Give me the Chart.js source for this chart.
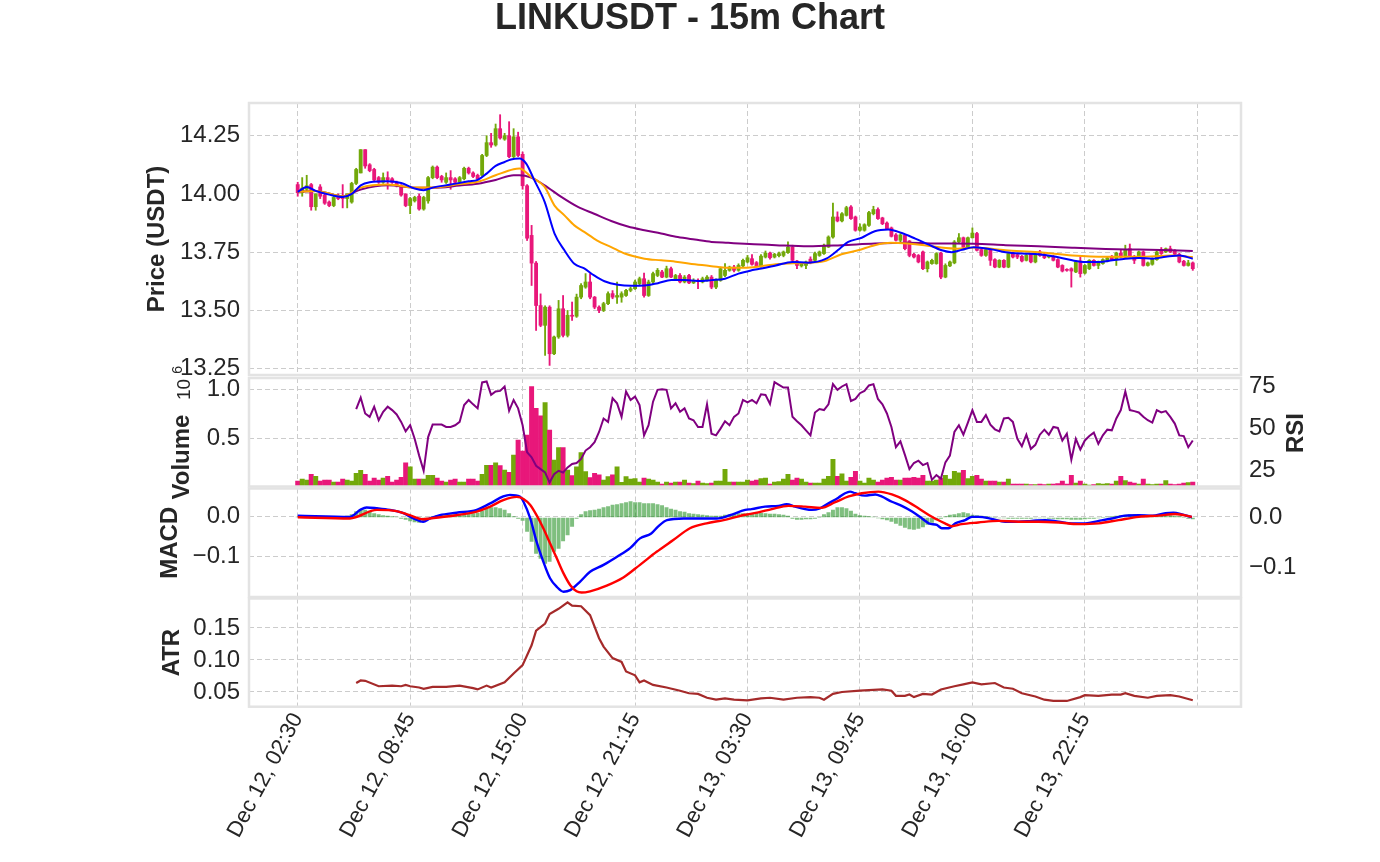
<!DOCTYPE html>
<html>
<head>
<meta charset="utf-8">
<script src="https://cdn.jsdelivr.net/npm/chart.js@4.4.1/dist/chart.umd.min.js"></script>
<style>
html,body{margin:0;padding:0;background:#ffffff;}
#wrap{position:relative;width:1380px;height:862px;overflow:hidden;}
canvas{position:absolute;left:0;top:0;}
</style>
</head>
<body>
<div id="wrap">
<canvas id="cPrice" width="1380" height="862"></canvas>
<canvas id="cVol" width="1380" height="862"></canvas>
<canvas id="cMacd" width="1380" height="862"></canvas>
<canvas id="cAtr" width="1380" height="862"></canvas>
</div>
<script>
// ---------------- DATA ----------------
const timeLabels = ['Dec 12, 02:30','Dec 12, 08:45','Dec 12, 15:00','Dec 12, 21:15','Dec 13, 03:30','Dec 13, 09:45','Dec 13, 16:00','Dec 13, 22:15',''];
const tickIdx = [0,25,50,75,100,125,150,175,200];
const priceTicks = [13.25,13.50,13.75,14.00,14.25];
const volTicks = [0.5,1.0];
const rsiTicks = [25,50,75];
const macdTicks = [-0.1,0.0];
const histTicks = [-0.1,0.0];
const atrTicks = [0.05,0.10,0.15];

const openP = [14.040,14.005,14.020,14.040,13.945,14.030,13.995,13.965,13.950,13.990,
13.990,13.980,13.965,14.045,14.090,14.190,14.125,14.105,14.070,14.050,
14.070,14.065,14.050,14.035,14.000,13.950,13.970,13.990,13.935,13.970,
14.070,14.115,14.075,14.050,14.070,14.065,14.050,14.065,14.110,14.090,
14.080,14.080,14.165,14.220,14.210,14.280,14.235,14.250,14.160,14.245,
14.170,14.035,13.822,13.703,13.521,13.436,13.514,13.314,13.386,13.507,
13.393,13.479,13.475,13.557,13.600,13.622,13.557,13.514,13.500,13.529,
13.572,13.557,13.557,13.564,13.586,13.593,13.615,13.636,13.564,13.622,
13.650,13.665,13.643,13.679,13.636,13.650,13.622,13.650,13.618,13.629,
13.622,13.629,13.643,13.600,13.629,13.650,13.672,13.686,13.672,13.691,
13.708,13.722,13.705,13.691,13.729,13.746,13.729,13.735,13.736,13.748,
13.772,13.712,13.691,13.693,13.720,13.715,13.736,13.744,13.772,13.815,
13.901,13.884,13.908,13.944,13.901,13.844,13.844,13.865,13.915,13.933,
13.897,13.875,13.854,13.824,13.801,13.822,13.798,13.741,13.736,13.751,
13.679,13.701,13.701,13.746,13.643,13.691,13.704,13.794,13.812,13.772,
13.812,13.830,13.761,13.736,13.761,13.718,13.686,13.715,13.686,13.746,
13.739,13.732,13.715,13.741,13.708,13.751,13.741,13.729,13.732,13.718,
13.693,13.675,13.679,13.665,13.712,13.660,13.679,13.715,13.693,13.701,
13.712,13.732,13.718,13.746,13.729,13.765,13.732,13.729,13.751,13.693,
13.698,13.718,13.758,13.751,13.765,13.758,13.741,13.711,13.693,13.704];

const highP = [14.050,14.070,14.080,14.045,14.000,14.040,14.000,13.970,13.990,14.000,
14.040,14.000,14.050,14.110,14.190,14.190,14.130,14.110,14.075,14.090,
14.095,14.070,14.055,14.040,14.000,13.985,13.990,14.000,13.990,14.075,
14.120,14.120,14.080,14.090,14.100,14.070,14.075,14.115,14.115,14.095,
14.085,14.170,14.250,14.260,14.300,14.340,14.260,14.310,14.280,14.265,
14.180,14.040,13.865,13.710,13.571,13.520,13.520,13.390,13.543,13.564,
13.500,13.536,13.570,13.615,13.658,13.658,13.560,13.520,13.535,13.580,
13.585,13.622,13.580,13.590,13.600,13.630,13.643,13.660,13.630,13.665,
13.680,13.672,13.690,13.686,13.655,13.658,13.650,13.655,13.636,13.636,
13.643,13.650,13.650,13.636,13.686,13.701,13.690,13.693,13.700,13.720,
13.736,13.740,13.710,13.740,13.755,13.750,13.745,13.750,13.755,13.794,
13.780,13.715,13.705,13.712,13.730,13.750,13.755,13.785,13.820,13.961,
13.923,13.920,13.947,13.950,13.905,13.872,13.872,13.925,13.947,13.940,
13.900,13.880,13.858,13.830,13.830,13.825,13.800,13.745,13.740,13.755,
13.712,13.720,13.748,13.750,13.700,13.712,13.800,13.830,13.815,13.815,
13.854,13.835,13.765,13.765,13.765,13.722,13.718,13.718,13.748,13.750,
13.742,13.736,13.740,13.745,13.745,13.758,13.745,13.736,13.736,13.722,
13.696,13.679,13.683,13.712,13.729,13.697,13.718,13.718,13.712,13.722,
13.729,13.736,13.750,13.761,13.780,13.785,13.736,13.755,13.755,13.708,
13.726,13.755,13.770,13.768,13.776,13.761,13.745,13.715,13.715,13.708];

const lowP = [13.990,13.990,14.010,13.930,13.930,13.980,13.955,13.945,13.945,13.975,
13.940,13.940,13.960,14.040,14.090,14.110,14.095,14.055,14.045,14.045,
14.020,14.045,14.030,13.990,13.945,13.915,13.965,13.930,13.930,13.960,
14.065,14.065,14.050,14.045,14.020,14.045,14.045,14.060,14.085,14.070,
14.060,14.075,14.160,14.200,14.205,14.235,14.230,14.155,14.155,14.160,
14.020,13.800,13.607,13.414,13.430,13.307,13.264,13.310,13.380,13.386,
13.386,13.457,13.470,13.550,13.595,13.550,13.507,13.490,13.495,13.525,
13.550,13.530,13.535,13.560,13.580,13.590,13.610,13.557,13.560,13.615,
13.645,13.640,13.640,13.640,13.632,13.618,13.618,13.615,13.615,13.593,
13.618,13.625,13.593,13.593,13.625,13.645,13.668,13.665,13.668,13.686,
13.704,13.694,13.686,13.686,13.725,13.720,13.725,13.730,13.730,13.745,
13.710,13.679,13.686,13.679,13.700,13.710,13.732,13.740,13.770,13.810,
13.880,13.880,13.905,13.890,13.840,13.840,13.840,13.860,13.910,13.890,
13.868,13.848,13.815,13.798,13.795,13.760,13.730,13.725,13.704,13.675,
13.665,13.698,13.698,13.636,13.640,13.688,13.700,13.790,13.768,13.768,
13.810,13.755,13.732,13.732,13.693,13.683,13.683,13.683,13.683,13.725,
13.722,13.708,13.712,13.704,13.704,13.732,13.722,13.725,13.712,13.683,
13.665,13.668,13.600,13.662,13.643,13.656,13.675,13.690,13.679,13.698,
13.708,13.715,13.693,13.725,13.725,13.729,13.701,13.725,13.690,13.690,
13.694,13.715,13.740,13.748,13.748,13.738,13.704,13.690,13.690,13.672];

const closeP = [14.005,14.025,14.035,13.945,14.000,13.990,13.960,13.950,13.985,13.980,
13.980,14.000,14.045,14.105,14.190,14.120,14.100,14.060,14.050,14.070,
14.060,14.050,14.035,13.995,13.950,13.980,13.985,13.935,13.985,14.070,
14.115,14.070,14.060,14.070,14.060,14.050,14.070,14.110,14.090,14.075,
14.065,14.165,14.220,14.210,14.280,14.240,14.250,14.160,14.245,14.165,
14.035,13.810,13.703,13.521,13.436,13.514,13.314,13.386,13.507,13.393,
13.479,13.475,13.557,13.607,13.622,13.557,13.514,13.500,13.529,13.572,
13.557,13.564,13.572,13.586,13.593,13.622,13.636,13.564,13.622,13.658,
13.672,13.643,13.679,13.643,13.650,13.622,13.643,13.618,13.629,13.625,
13.636,13.643,13.600,13.629,13.679,13.672,13.686,13.672,13.693,13.715,
13.726,13.698,13.691,13.733,13.746,13.726,13.741,13.744,13.751,13.772,
13.715,13.693,13.701,13.708,13.708,13.744,13.751,13.780,13.815,13.901,
13.884,13.915,13.941,13.894,13.844,13.858,13.868,13.920,13.933,13.894,
13.872,13.851,13.818,13.801,13.824,13.765,13.736,13.729,13.708,13.679,
13.708,13.715,13.744,13.643,13.693,13.708,13.794,13.812,13.772,13.812,
13.832,13.758,13.736,13.761,13.715,13.686,13.715,13.686,13.744,13.729,
13.729,13.712,13.736,13.708,13.741,13.736,13.726,13.733,13.715,13.686,
13.669,13.672,13.669,13.708,13.658,13.693,13.715,13.693,13.708,13.718,
13.725,13.718,13.746,13.729,13.761,13.732,13.715,13.751,13.693,13.704,
13.722,13.751,13.744,13.765,13.751,13.741,13.708,13.693,13.704,13.679];

// volume in millions
const volume = [0.072,0.09,0.08,0.14,0.12,0.07,0.08,0.08,0.06,0.06,
0.09,0.08,0.07,0.15,0.18,0.14,0.07,0.10,0.08,0.10,
0.12,0.06,0.08,0.11,0.255,0.215,0.09,0.09,0.09,0.13,
0.13,0.10,0.07,0.06,0.08,0.09,0.06,0.06,0.09,0.09,
0.07,0.14,0.23,0.23,0.255,0.227,0.183,0.16,0.335,0.487,
0.375,0.537,1.026,0.808,0.73,0.865,0.588,0.284,0.41,0.41,
0.183,0.126,0.216,0.358,0.166,0.106,0.15,0.133,0.08,0.116,
0.133,0.216,0.059,0.116,0.09,0.095,0.06,0.10,0.09,0.08,
0.06,0.04,0.06,0.05,0.06,0.06,0.08,0.05,0.045,0.07,
0.05,0.045,0.05,0.07,0.07,0.19,0.06,0.06,0.06,0.06,
0.08,0.07,0.08,0.095,0.10,0.04,0.06,0.065,0.09,0.14,
0.08,0.10,0.09,0.06,0.05,0.05,0.05,0.09,0.12,0.29,
0.12,0.145,0.07,0.11,0.17,0.07,0.05,0.10,0.08,0.06,
0.08,0.10,0.11,0.08,0.08,0.10,0.10,0.11,0.10,0.13,
0.07,0.07,0.08,0.10,0.13,0.09,0.17,0.155,0.18,0.095,
0.12,0.13,0.09,0.07,0.07,0.07,0.06,0.06,0.09,0.04,
0.04,0.04,0.04,0.035,0.035,0.04,0.035,0.04,0.04,0.045,
0.072,0.04,0.13,0.05,0.07,0.04,0.03,0.035,0.045,0.04,
0.045,0.04,0.07,0.12,0.075,0.06,0.05,0.04,0.09,0.04,
0.035,0.04,0.04,0.075,0.04,0.035,0.04,0.05,0.055,0.06];

const rsiStart = 13;
const rsi = [61.4,68.2,58.8,56.8,62.8,54.8,59.8,62.8,60.8,58.2,53.8,48.2,51.8,43.8,33.8,24.8,44.8,
52.2,52.2,52.2,50.8,50.8,51.8,53.8,63.8,66.8,64.2,61.8,77.2,77.8,69.8,71.8,72.2,74.8,60.4,66.8,61.8,
51.8,35.8,32.8,27.8,25.8,23.8,17.8,22.8,24.8,23.8,26.8,28.8,29.4,31.8,36.8,38.8,41.8,47.8,55.8,53.8,
67.8,64.8,56.8,71.8,66.8,68.8,63.8,45.8,51.8,65.8,72.8,73.2,72.8,61.8,64.8,59.8,61.8,55.8,54.8,50.8,
50.8,64.2,46.8,45.8,49.8,54.2,51.8,56.8,58.8,66.8,
65.4,66.8,64.8,70.2,69.8,64.4,77.4,75.8,74.2,74.2,56.8,54.2,51.8,48.8,45.8,59.4,61.4,60.8,64.2,76.2,
72.8,74.8,76.2,66.2,67.4,70.8,72.2,75.4,76.2,67.4,64.2,58.8,50.8,38.8,42.2,34.2,25.8,29.4,30.8,28.2,
29.4,19.4,22.2,20.2,29.8,33.8,47.8,51.8,46.2,53.4,60.8,53.8,53.8,57.8,52.2,49.4,48.2,55.8,56.2,53.8,
43.8,39.4,46.2,37.8,40.2,46.2,49.2,46.2,50.8,50.2,42.8,46.8,31.4,43.8,37.4,42.8,45.4,47.4,40.8,45.8,
49.2,48.8,55.8,60.8,71.8,60.8,60.2,59.4,56.8,54.8,53.4,60.8,59.4,60.2,56.8,52.8,45.8,45.4,38.8,42.8];

// moving averages as [bar, price]
const emaFast = [[0,14.009],[2,14.03],[4,14.013],[7,13.997],[10,13.987],[12,14.0],[14,14.037],[16,14.05],[20,14.054],[23,14.047],[26,14.023],[28,14.016],[30,14.027],[34,14.04],[38,14.054],[40,14.06],[42,14.087],[44,14.12],[46,14.137],[47.4,14.148],[49.3,14.152],[50.8,14.13],[52.6,14.059],[54.9,13.966],[57.1,13.83],[59.3,13.758],[61.5,13.70],[63.7,13.68],[65.9,13.65],[68.2,13.625],[71.2,13.61],[74.2,13.606],[77.1,13.607],[80.1,13.617],[83.1,13.63],[86.0,13.63],[89.0,13.626],[92.0,13.63],[95.0,13.636],[98.0,13.658],[100.9,13.672],[103.1,13.68],[106.3,13.693],[110,13.708],[113.5,13.705],[117.5,13.722],[120.5,13.765],[122.4,13.794],[125.4,13.812],[128.3,13.84],[131.3,13.847],[134.3,13.832],[137.3,13.808],[140.3,13.782],[143.2,13.758],[145.4,13.75],[147.7,13.76],[150.3,13.771],[154.3,13.762],[157.4,13.75],[161.1,13.744],[164.7,13.741],[168.6,13.73],[172.2,13.715],[175.1,13.708],[178.1,13.708],[181.1,13.715],[184,13.722],[187,13.725],[190,13.722],[193,13.73],[196,13.736],[199,13.722]];
const emaMid = [[0,14.009],[4,14.013],[10,13.99],[14,14.027],[20,14.04],[26,14.027],[30,14.027],[36,14.042],[40,14.052],[44,14.08],[48,14.106],[49.3,14.109],[51.9,14.073],[54.9,14.03],[57.1,13.95],[59.3,13.908],[61.5,13.865],[63.7,13.837],[66.6,13.80],[69.7,13.772],[72.7,13.744],[77.1,13.722],[80.8,13.715],[84.5,13.708],[88.3,13.698],[92.0,13.69],[95.7,13.683],[99.4,13.683],[103.1,13.69],[106.3,13.698],[113.5,13.705],[117.2,13.712],[120.9,13.741],[124.6,13.758],[128.3,13.78],[131.9,13.79],[135.6,13.787],[139.3,13.78],[143.0,13.77],[146.7,13.765],[150.3,13.77],[157.4,13.758],[164.7,13.75],[172.2,13.736],[179.6,13.73],[187,13.73],[194.4,13.736],[199,13.729]];
const emaSlow = [[0,14.009],[4,14.013],[10,13.99],[14,14.019],[20,14.037],[26,14.027],[30,14.026],[36,14.036],[40,14.044],[44,14.06],[48,14.08],[49.3,14.08],[51.9,14.07],[54.9,14.037],[58.6,13.987],[62.3,13.944],[65.9,13.915],[69.7,13.884],[73.4,13.86],[77.1,13.844],[80.8,13.83],[84.5,13.815],[88.3,13.804],[92.0,13.794],[95.7,13.79],[99.4,13.786],[103.1,13.783],[106.3,13.78],[113.5,13.775],[120.9,13.78],[128.3,13.787],[135.6,13.79],[143.0,13.787],[150.3,13.786],[157.4,13.78],[164.7,13.775],[172.2,13.769],[179.6,13.764],[187,13.761],[194.4,13.758],[199,13.755]];

// MACD and signal as [bar, value]
const macdLine = [[0,0.001],[11.6,-0.002],[13.9,0.015],[15.3,0.021],[17.6,0.019],[20.5,0.015],[23.5,0.007],[25.7,-0.006],[27.9,-0.014],[29.4,-0.006],[31.6,0.002],[35.3,0.008],[39.8,0.015],[42.8,0.031],[45.7,0.048],[47.2,0.052],[49.4,0.048],[50.2,0.035],[51.7,-0.006],[53.1,-0.063],[54.6,-0.112],[56.1,-0.153],[57.6,-0.174],[59.1,-0.186],[60.6,-0.182],[62.8,-0.161],[65.0,-0.137],[68.0,-0.120],[71.0,-0.100],[73.9,-0.079],[76.1,-0.055],[78.6,-0.043],[80.1,-0.026],[82.1,-0.010],[85.8,-0.006],[90.2,-0.006],[93.2,-0.006],[96.1,0.002],[99.5,0.015],[100.9,0.017],[103.9,0.023],[106.9,0.025],[108.7,0.029],[110.6,0.023],[112.8,0.017],[114.3,0.015],[116.1,0.019],[118.0,0.031],[120.2,0.045],[121.7,0.056],[122.8,0.060],[123.9,0.056],[126.1,0.050],[128.4,0.053],[129.8,0.048],[132.1,0.035],[134.3,0.025],[136.6,0.011],[138.8,-0.006],[140.3,-0.018],[142.1,-0.022],[143.2,-0.030],[144.7,-0.030],[146.2,-0.018],[148.4,-0.010],[149.9,-0.002],[151.4,-0.002],[154.3,-0.007],[157.3,-0.014],[160.3,-0.014],[163.2,-0.012],[166.2,-0.010],[169.2,-0.014],[172.1,-0.018],[175.1,-0.018],[178.1,-0.012],[181.0,-0.006],[184.0,0.001],[187.0,0.002],[190.0,0.001],[192.9,0.007],[194.7,0.008],[196.6,0.004],[198.8,-0.003]];
const signalLine = [[0,-0.003],[11.6,-0.006],[17.6,0.015],[22.0,0.012],[24.9,0.002],[27.9,-0.008],[29.4,-0.006],[35.3,0.002],[39.8,0.011],[42.8,0.023],[45.7,0.039],[48.7,0.047],[50.2,0.042],[51.7,0.027],[53.1,0.002],[54.6,-0.030],[56.1,-0.067],[57.6,-0.104],[59.1,-0.141],[60.6,-0.170],[62.0,-0.185],[63.1,-0.188],[65.0,-0.185],[68.7,-0.171],[72.4,-0.151],[76.1,-0.120],[79.8,-0.088],[83.5,-0.059],[87.2,-0.030],[90.9,-0.018],[94.7,-0.010],[97.6,-0.002],[99.5,0.003],[102.4,0.009],[105.4,0.017],[109.1,0.025],[112.8,0.023],[116.4,0.020],[119.5,0.034],[122.5,0.048],[125.4,0.056],[129.1,0.060],[132.1,0.053],[135.0,0.039],[138.0,0.019],[141.0,-0.002],[143.9,-0.018],[145.4,-0.025],[147.6,-0.020],[151.3,-0.016],[155.8,-0.012],[160.3,-0.014],[164.7,-0.014],[169.2,-0.016],[173.6,-0.020],[178.1,-0.018],[182.5,-0.010],[187.0,-0.002],[191.4,0.001],[195.1,0.005],[198.8,-0.002]];
const hist = [0.001,0.001,0,-0.001,0,0.001,0,-0.001,0.001,0,
0.001,0.003,0.006,0.012,0.015,0.015,0.013,0.008,0.006,0.004,
0.003,0.002,0.001,-0.002,-0.004,-0.007,-0.009,-0.010,-0.008,-0.004,
0.002,0.004,0.005,0.005,0.006,0.006,0.005,0.006,0.007,0.008,
0.009,0.013,0.018,0.020,0.020,0.018,0.015,0.008,0.002,-0.002,
-0.006,-0.028,-0.048,-0.072,-0.082,-0.092,-0.088,-0.068,-0.062,-0.047,
-0.035,-0.018,-0.002,0.006,0.012,0.014,0.015,0.017,0.020,0.022,
0.025,0.026,0.028,0.030,0.032,0.030,0.030,0.028,0.028,0.028,
0.026,0.024,0.020,0.017,0.015,0.012,0.011,0.008,0.007,0.006,
0.005,0.004,0.003,0.003,0.003,0.005,0.006,0.007,0.008,0.008,
0.008,0.008,0.009,0.009,0.008,0.007,0.007,0.006,0.005,0.003,
-0.002,-0.004,-0.004,-0.003,-0.003,-0.002,0.000,0.006,0.010,0.015,
0.020,0.020,0.018,0.013,0.007,0.004,0.003,0.002,0.001,-0.001,
-0.003,-0.005,-0.008,-0.012,-0.016,-0.020,-0.023,-0.024,-0.022,-0.019,
-0.014,-0.010,-0.005,-0.002,0.002,0.005,0.006,0.008,0.010,0.008,
0.005,0.004,0.003,0.002,0.001,0.000,-0.001,-0.001,-0.002,-0.002,
-0.002,-0.002,-0.002,-0.002,-0.001,-0.001,-0.001,-0.002,-0.002,-0.003,
-0.003,-0.003,-0.004,-0.004,-0.004,-0.003,-0.002,-0.002,-0.001,0.000,
0.001,0.002,0.003,0.004,0.005,0.006,0.006,0.006,0.005,0.004,
0.003,0.003,0.003,0.004,0.004,0.003,0.002,0.000,-0.002,-0.003];

// ATR as [bar, value]
const atrLine = [[13,0.064],[14,0.068],[15,0.0675],[18,0.059],[21,0.060],[23,0.059],[24,0.061],[25,0.059],[27,0.057],[28,0.055],[30,0.058],[33,0.058],[36,0.060],[39,0.056],[40,0.054],[42,0.060],[43,0.057],[46,0.065],[48,0.079],[50,0.092],[52,0.123],[53,0.146],[55,0.157],[56,0.172],[58,0.180],[60,0.190],[61,0.185],[63,0.184],[65,0.170],[67,0.134],[68,0.121],[70,0.103],[72,0.097],[73,0.082],[75,0.076],[76,0.065],[77,0.068],[79,0.061],[82,0.057],[85,0.052],[87,0.048],[89,0.047],[91,0.041],[93,0.038],[95,0.040],[97,0.038],[100,0.037],[103,0.040],[105,0.041],[108,0.038],[111,0.041],[114,0.042],[116,0.041],[117,0.038],[119,0.047],[121,0.050],[125,0.052],[127,0.053],[130,0.054],[132,0.052],[133,0.044],[135,0.044],[136,0.046],[137,0.042],[139,0.047],[141,0.046],[143,0.054],[146,0.059],[148,0.062],[150,0.065],[152,0.062],[155,0.064],[157,0.057],[159,0.055],[161,0.048],[164,0.043],[166,0.038],[168,0.036],[171,0.036],[174,0.042],[175,0.045],[178,0.044],[181,0.046],[183,0.046],[184,0.048],[186,0.044],[189,0.041],[191,0.044],[194,0.045],[196,0.043],[199,0.037]];

// ---------------- STYLE / LAYOUT ----------------
const FONT = "'Liberation Sans', Arial, sans-serif";
const TXT = '#262626';
const GRID = '#cccccc';
const UP = '#72a80a';
const DOWN = '#e8177a';
const XMIN = -10.83, XMAX = 209.72;
const LEFTW = 249, RIGHTW = 139;

Chart.defaults.font.family = FONT;
Chart.defaults.color = TXT;

const toXY = a => a.map(p => ({x: p[0], y: p[1]}));
const candleColor = openP.map((o, i) => closeP[i] >= o ? UP : DOWN);
const fmtSigned1 = v => (v < 0 ? '\u2212' : '') + Math.abs(v).toFixed(1);

const framePlugin = {
  id: 'frame',
  afterDraw(chart) {
    const {ctx, chartArea: a} = chart;
    ctx.save();
    ctx.strokeStyle = '#e3e3e3';
    ctx.lineWidth = 2.5;
    ctx.strokeRect(a.left, a.top, a.right - a.left, a.bottom - a.top);
    ctx.restore();
  }
};

function xAxis(showLabels) {
  return {
    type: 'linear', min: XMIN, max: XMAX, offset: false,
    grid: {color: GRID, lineWidth: 1, drawTicks: false, offset: false},
    border: {display: false, dash: [5, 3]},
    afterBuildTicks: s => { s.ticks = tickIdx.map(v => ({value: v})); },
    ticks: {
      display: showLabels, autoSkip: false, minRotation: 62, maxRotation: 62, padding: 2,
      font: {size: 22, family: FONT}, color: TXT,
      callback: (v, i) => timeLabels[i]
    },
    afterFit: s => { s.height = showLabels ? 150 : 0; }
  };
}

function yAxis(opts) {
  const left = opts.position === 'left';
  return {
    type: 'linear', position: opts.position, min: opts.min, max: opts.max, beginAtZero: false,
    grid: {display: true, drawOnChartArea: !!opts.grid, color: GRID, lineWidth: 1, drawTicks: false},
    border: {display: false, dash: [5, 3]},
    afterBuildTicks: s => { s.ticks = opts.ticks.map(v => ({value: v})); },
    ticks: {display: true, padding: left ? 9 : 8, font: {size: 24, family: FONT}, color: TXT, callback: opts.fmt},
    title: opts.title ? {display: true, text: opts.title, color: TXT,
      font: {size: 24, weight: 'bold', family: FONT}, padding: {top: opts.titleX - 14.4, bottom: 0}} : {display: false},
    afterFit: s => { s.width = left ? LEFTW : RIGHTW; }
  };
}

const baseOpts = {
  responsive: false, animation: false, events: [],
  plugins: {legend: {display: false}, tooltip: {enabled: false}, title: {display: false}}
};

// ---------------- PRICE ----------------
new Chart(document.getElementById('cPrice'), {
  type: 'bar',
  data: {datasets: [
    {type: 'line', data: toXY(emaFast), borderColor: '#0000ff', borderWidth: 2, pointRadius: 0, cubicInterpolationMode: 'monotone', order: 0},
    {type: 'line', data: toXY(emaMid), borderColor: '#ffa500', borderWidth: 2, pointRadius: 0, cubicInterpolationMode: 'monotone', order: 1},
    {type: 'line', data: toXY(emaSlow), borderColor: '#800080', borderWidth: 2, pointRadius: 0, cubicInterpolationMode: 'monotone', order: 2},
    {type: 'bar', data: openP.map((o, i) => ({x: i, y: [o, closeP[i]]})), backgroundColor: candleColor, barThickness: 3.2, grouped: false, minBarLength: 1, order: 3},
    {type: 'bar', data: lowP.map((l, i) => ({x: i, y: [l, highP[i]]})), backgroundColor: candleColor, barThickness: 1.2, grouped: false, order: 4}
  ]},
  options: Object.assign({}, baseOpts, {
    layout: {padding: {left: 0, right: 0, top: 0, bottom: 862 - 375}},
    plugins: {legend: {display: false}, tooltip: {enabled: false},
      title: {display: true, text: 'LINKUSDT - 15m Chart', color: TXT,
        font: {size: 36, weight: 'bold', family: FONT, lineHeight: 0.8}, padding: {top: 4.5, bottom: 103 - 4.5 - 28.8}}},
    scales: {
      x: xAxis(false),
      y: yAxis({position: 'left', min: 13.2228, max: 14.3902, ticks: priceTicks, fmt: v => v.toFixed(2), grid: true, title: 'Price (USDT)', titleX: 157}),
      yR: {type: 'linear', position: 'right', min: 0, max: 1, grid: {drawOnChartArea: false, drawTicks: false}, border: {display: false}, ticks: {display: false}, afterFit: s => { s.width = RIGHTW; }}
    }
  }),
  plugins: [framePlugin]
});

// ---------------- VOLUME + RSI ----------------
const volTextPlugin = {
  id: 'volText',
  afterDraw(chart) {
    const ctx = chart.ctx;
    function vText(txt, x, y, font) {
      ctx.save();
      ctx.fillStyle = TXT;
      ctx.translate(x, y);
      ctx.rotate(-Math.PI / 2);
      ctx.font = font;
      ctx.textAlign = 'center';
      ctx.textBaseline = 'middle';
      ctx.fillText(txt, 0, 0);
      ctx.restore();
    }
    vText('RSI', 1296, 433, 'bold 24px ' + FONT);
    vText('Volume', 182.5, 457, 'bold 24px ' + FONT);
    // volume multiplier 10^6
    ctx.save();
    ctx.fillStyle = TXT;
    ctx.translate(190, 400);
    ctx.rotate(-Math.PI / 2);
    ctx.font = '19px ' + FONT;
    ctx.textAlign = 'left';
    ctx.textBaseline = 'alphabetic';
    ctx.fillText('10', 0, 0);
    const w = ctx.measureText('10').width;
    ctx.font = '14px ' + FONT;
    ctx.fillText('6', w + 5, -8);
    ctx.restore();
  }
};

new Chart(document.getElementById('cVol'), {
  type: 'bar',
  data: {datasets: [
    {type: 'line', data: rsi.map((v, k) => ({x: rsiStart + k, y: v})), yAxisID: 'yR', borderColor: '#800080', borderWidth: 2, pointRadius: 0, tension: 0, order: 0},
    {type: 'bar', data: volume.map((v, i) => ({x: i, y: v})), yAxisID: 'y', backgroundColor: candleColor, barThickness: 4.3, grouped: false, order: 1}
  ]},
  options: Object.assign({}, baseOpts, {
    layout: {padding: {left: 0, right: 0, top: 378, bottom: 862 - 486.5}},
    scales: {
      x: xAxis(false),
      y: yAxis({position: 'left', min: 0.016, max: 1.114, ticks: volTicks, fmt: v => v.toFixed(1), grid: true}),
      yR: yAxis({position: 'right', min: 15.48, max: 79.83, ticks: rsiTicks, fmt: v => String(v), grid: false})
    }
  }),
  plugins: [framePlugin, volTextPlugin]
});

// ---------------- MACD ----------------
new Chart(document.getElementById('cMacd'), {
  type: 'bar',
  data: {datasets: [
    {type: 'line', data: toXY(signalLine), yAxisID: 'y', borderColor: '#ff0000', borderWidth: 2.4, pointRadius: 0, cubicInterpolationMode: 'monotone', order: 0},
    {type: 'line', data: toXY(macdLine), yAxisID: 'y', borderColor: '#0000ff', borderWidth: 2.4, pointRadius: 0, cubicInterpolationMode: 'monotone', order: 1},
    {type: 'bar', data: hist.map((v, i) => ({x: i, y: v})), yAxisID: 'yR', backgroundColor: 'rgba(0,128,0,0.5)', barThickness: 3.3, grouped: false, order: 2}
  ]},
  options: Object.assign({}, baseOpts, {
    layout: {padding: {left: 0, right: 0, top: 488.5, bottom: 862 - 597}},
    scales: {
      x: xAxis(false),
      y: yAxis({position: 'left', min: -0.199, max: 0.0676, ticks: macdTicks, fmt: fmtSigned1, grid: true, title: 'MACD', titleX: 170}),
      yR: yAxis({position: 'right', min: -0.159, max: 0.058, ticks: histTicks, fmt: fmtSigned1, grid: false})
    }
  }),
  plugins: [framePlugin]
});

// ---------------- ATR ----------------
new Chart(document.getElementById('cAtr'), {
  type: 'line',
  data: {datasets: [
    {data: toXY(atrLine), borderColor: '#a52a2a', borderWidth: 2.2, pointRadius: 0, tension: 0}
  ]},
  options: Object.assign({}, baseOpts, {
    layout: {padding: {left: 0, right: RIGHTW, top: 598.5, bottom: 862 - 706.7 - 150}},
    scales: {
      x: xAxis(true),
      y: yAxis({position: 'left', min: 0.027, max: 0.1961, ticks: atrTicks, fmt: v => v.toFixed(2), grid: true, title: 'ATR', titleX: 172})
    }
  }),
  plugins: [framePlugin]
});
</script>
</body>
</html>
